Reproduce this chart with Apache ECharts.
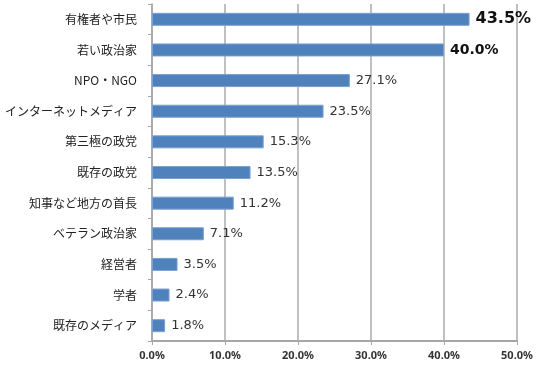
<!DOCTYPE html>
<html><head><meta charset="utf-8">
<script src="https://cdn.jsdelivr.net/npm/echarts@6/dist/echarts.min.js"></script>
<style>html,body{margin:0;padding:0;background:#fff}#c{width:540px;height:368px}</style>
</head><body><div id="c"></div>
<script>
const categories = ["有権者や市民","若い政治家","NPO・NGO","インターネットメディア","第三極の政党","既存の政党","知事など地方の首長","ベテラン政治家","経営者","学者","既存のメディア"];
const values = [43.5,40.0,27.1,23.5,15.3,13.5,11.2,7.1,3.5,2.4,1.8];
const xTicks = [0,10,20,30,40,50];

const chart = echarts.init(document.getElementById('c'), null, {renderer:'canvas'});
const data = values.map((v,i)=>{
  const d = {value:v};
  if (i===0) d.label = {fontSize:16, fontWeight:'bold', color:'#111'};
  else if (i===1) d.label = {fontSize:14, fontWeight:'bold', color:'#111'};
  return d;
});
chart.setOption({
  animation:false,
  grid:{left:152,right:23,top:4,bottom:27,containLabel:false},
  xAxis:{type:'value',min:xTicks[0],max:xTicks[xTicks.length-1],interval:10,
    axisLine:{show:true,lineStyle:{color:'#a6a6a6',width:2}},
    axisTick:{show:true,length:4,lineStyle:{color:'#a6a6a6',width:1}},
    splitLine:{show:true,lineStyle:{color:'#ababab',width:1.5}},
    axisLabel:{formatter:v=>v.toFixed(1)+'%',color:'#333',fontSize:11,fontWeight:'bold',fontFamily:'Noto Sans',margin:9}
  },
  yAxis:{type:'category',data:categories,inverse:true,
    axisLine:{show:true,lineStyle:{color:'#a6a6a6',width:1.5}},
    axisTick:{show:true,length:4,inside:false,lineStyle:{color:'#a6a6a6'}},
    axisLabel:{color:'#222',fontSize:12,fontFamily:'Noto Sans CJK JP',margin:15}
  },
  series:[{type:'bar',data:data,barWidth:13,
    itemStyle:{color:'#4f81bd',borderColor:'#7aa0d0',borderWidth:1},
    label:{show:true,position:'right',distance:6,formatter:p=>p.value.toFixed(1)+'%',
      color:'#333',fontSize:13,fontFamily:'DejaVu Sans'}
  }]
});
</script></body></html>
